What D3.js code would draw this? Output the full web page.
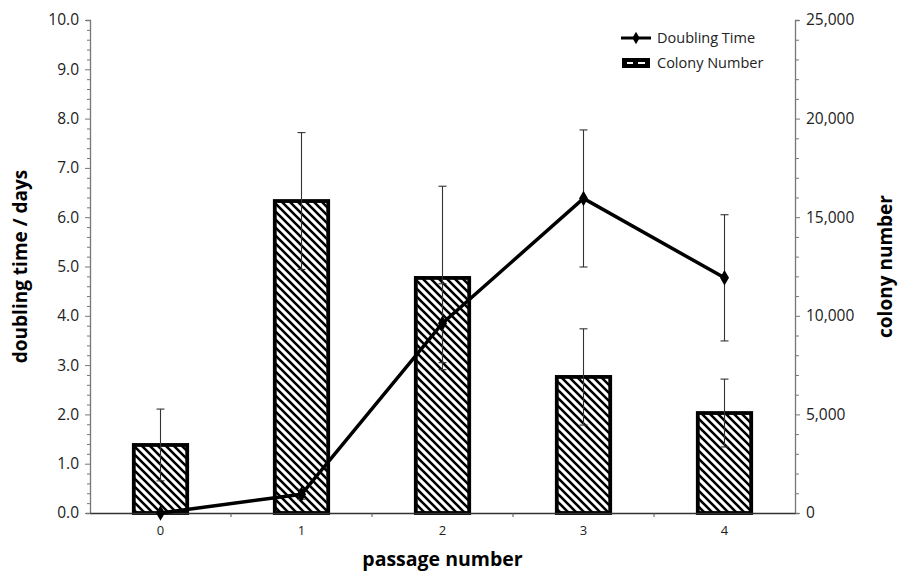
<!DOCTYPE html>
<html>
<head>
<meta charset="utf-8">
<script src="https://cdn.jsdelivr.net/npm/d3@7"></script>
<style>
  body { margin: 0; background: #fff; }
  svg { font-family: "Open Sans", "Noto Sans", sans-serif; }
</style>
</head>
<body>
<svg></svg>
<script>
// passage numbers on the x axis
const passages = ['0', '1', '2', '3', '4'];
// colony number (right axis) with error
const colonies = [3450, 15820, 11920, 6900, 5070];
const colonyErr = [1820, 3470, 4650, 2440, 1720];
// doubling time in days (left axis) with error
const doubling = [0.0, 0.38, 3.85, 6.38, 4.77];
const doublingErr = [0, 0.1, 0.8, 1.39, 1.28];

const leftTicks = d3.range(0, 10.01, 0.2);
const rightTicks = d3.range(0, 25001, 1000);

const s = {
  width: 904,
  height: 571,
  left: 90,
  right: 795,
  top: 20,
  bottom: 513,
};

const svg = d3.select('svg')
    .attr('width', s.width)
    .attr('height', s.height);

const x = d3.scaleBand()
    .domain(passages)
    .range([s.left, s.right])
    .paddingInner(0)
    .paddingOuter(0);

const yL = d3.scaleLinear().domain([0, 10]).range([s.bottom, s.top]);
const yR = d3.scaleLinear().domain([0, 25000]).range([s.bottom, s.top]);

// hatch pattern for the bars
const defs = svg.append('defs');
defs.append('pattern')
    .attr('id', 'hatch')
    .attr('patternUnits', 'userSpaceOnUse')
    .attr('width', 8)
    .attr('height', 8)
  .append('path')
    .attr('d', 'M-2,6 l4,4 M0,0 l8,8 M6,-2 l4,4')
    .attr('stroke', '#000')
    .attr('stroke-width', 2.6);

const isMajor = (v, step) => Math.abs(v / step - Math.round(v / step)) < 1e-6;

// left axis
const axL = svg.append('g')
    .attr('transform', `translate(${s.left},0)`)
    .call(d3.axisLeft(yL)
      .tickValues(leftTicks)
      .tickSize(4)
      .tickFormat(d => isMajor(d, 1) ? d.toFixed(1) : ''));
axL.selectAll('.tick line')
    .attr('x2', d => isMajor(d, 1) ? -5 : -3);

// right axis
const axR = svg.append('g')
    .attr('transform', `translate(${s.right},0)`)
    .call(d3.axisRight(yR)
      .tickValues(rightTicks)
      .tickSize(4)
      .tickFormat(d => isMajor(d, 5000) ? d3.format(',')(d) : ''));
axR.selectAll('.tick line')
    .attr('x2', d => isMajor(d, 5000) ? 5 : 4);

[axL, axR].forEach(a => {
  a.select('.domain').attr('stroke', '#777').attr('stroke-width', 1.3);
  a.selectAll('.tick line').attr('stroke', '#777');
  a.selectAll('.tick text')
      .attr('font-size', 15.5)
      .attr('fill', '#222')
      .attr('font-family', '"Open Sans", sans-serif');
});
axL.selectAll('.tick text').attr('x', -11);
axR.selectAll('.tick text').attr('x', 11);

// bars
svg.append('g').selectAll('rect')
    .data(colonies)
    .join('rect')
      .attr('x', (d, i) => x(passages[i]) + x.bandwidth() * 0.3 + 1.5)
      .attr('width', x.bandwidth() * 0.4 - 3)
      .attr('y', d => yR(d))
      .attr('height', d => s.bottom - yR(d))
      .attr('fill', 'url(#hatch)')
      .attr('stroke', '#000')
      .attr('stroke-width', 3.8);

// x axis
const axX = svg.append('g')
    .attr('transform', `translate(0,${s.bottom})`)
    .call(d3.axisBottom(x).tickSize(0).tickPadding(13));
axX.select('.domain').attr('stroke', '#333').attr('stroke-width', 1.3);
axX.selectAll('.tick text')
    .attr('font-size', 13)
    .attr('fill', '#222')
    .attr('font-family', '"Open Sans", sans-serif');
axX.selectAll('.sep')
    .data(passages.slice(1))
    .join('line')
      .attr('class', 'sep')
      .attr('x1', d => x(d)).attr('x2', d => x(d))
      .attr('y1', 0).attr('y2', 4)
      .attr('stroke', '#555');

// error bars
function errBars(g, cx, lo, hi) {
  const cap = 4;
  g.append('line')
      .attr('x1', cx).attr('x2', cx).attr('y1', lo).attr('y2', hi);
  g.append('line')
      .attr('x1', cx - cap).attr('x2', cx + cap).attr('y1', lo).attr('y2', lo);
  g.append('line')
      .attr('x1', cx - cap).attr('x2', cx + cap).attr('y1', hi).attr('y2', hi);
}

const errG = svg.append('g')
    .attr('stroke', '#333')
    .attr('stroke-width', 1.1);

colonies.forEach((d, i) => {
  const cx = x(passages[i]) + x.bandwidth() / 2;
  errBars(errG, cx, yR(d - colonyErr[i]), yR(d + colonyErr[i]));
});

doubling.forEach((d, i) => {
  if (!doublingErr[i]) return;
  const cx = x(passages[i]) + x.bandwidth() / 2;
  errBars(errG, cx, yL(d - doublingErr[i]), yL(d + doublingErr[i]));
});

// doubling time line
const line = d3.line()
    .x((d, i) => x(passages[i]) + x.bandwidth() / 2)
    .y(d => yL(d));

svg.append('path')
    .datum(doubling)
    .attr('d', line)
    .attr('fill', 'none')
    .attr('stroke', '#000')
    .attr('stroke-width', 3.5);

const diamond = d3.symbol().type(d3.symbolDiamond).size(70);
svg.append('g').selectAll('path')
    .data(doubling)
    .join('path')
      .attr('transform', (d, i) => `translate(${x(passages[i]) + x.bandwidth() / 2},${yL(d)})`)
      .attr('d', diamond)
      .attr('fill', '#000');

// axis titles
svg.append('text')
    .attr('transform', `translate(27,${(s.top + s.bottom) / 2}) rotate(-90)`)
    .attr('text-anchor', 'middle')
    .attr('font-size', 19)
    .attr('font-weight', 'bold')
    .text('doubling time / days');

svg.append('text')
    .attr('transform', `translate(892,${(s.top + s.bottom) / 2}) rotate(-90)`)
    .attr('text-anchor', 'middle')
    .attr('font-size', 19)
    .attr('font-weight', 'bold')
    .text('colony number');

svg.append('text')
    .attr('x', (s.left + s.right) / 2)
    .attr('y', 566)
    .attr('text-anchor', 'middle')
    .attr('font-size', 19.5)
    .attr('font-weight', 'bold')
    .text('passage number');

// legend
const lg = svg.append('g').attr('transform', 'translate(621,0)');
lg.append('line')
    .attr('x1', 0).attr('x2', 30).attr('y1', 38).attr('y2', 38)
    .attr('stroke', '#000').attr('stroke-width', 3);
lg.append('path')
    .attr('transform', 'translate(15,38)')
    .attr('d', d3.symbol().type(d3.symbolDiamond).size(45))
    .attr('fill', '#000');
lg.append('text')
    .attr('x', 36).attr('y', 38).attr('dy', '0.35em')
    .attr('font-size', 14.5)
    .attr('fill', '#222')
    .text('Doubling Time');

lg.append('rect')
    .attr('x', 1).attr('y', 58).attr('width', 28).attr('height', 10)
    .attr('fill', '#000');
lg.append('line')
    .attr('x1', 6).attr('x2', 12).attr('y1', 63).attr('y2', 63)
    .attr('stroke', '#fff').attr('stroke-width', 2);
lg.append('line')
    .attr('x1', 17).attr('x2', 24).attr('y1', 63).attr('y2', 63)
    .attr('stroke', '#fff').attr('stroke-width', 2);
lg.append('text')
    .attr('x', 36).attr('y', 63).attr('dy', '0.35em')
    .attr('font-size', 14.5)
    .attr('fill', '#222')
    .text('Colony Number');
</script>
</body>
</html>
